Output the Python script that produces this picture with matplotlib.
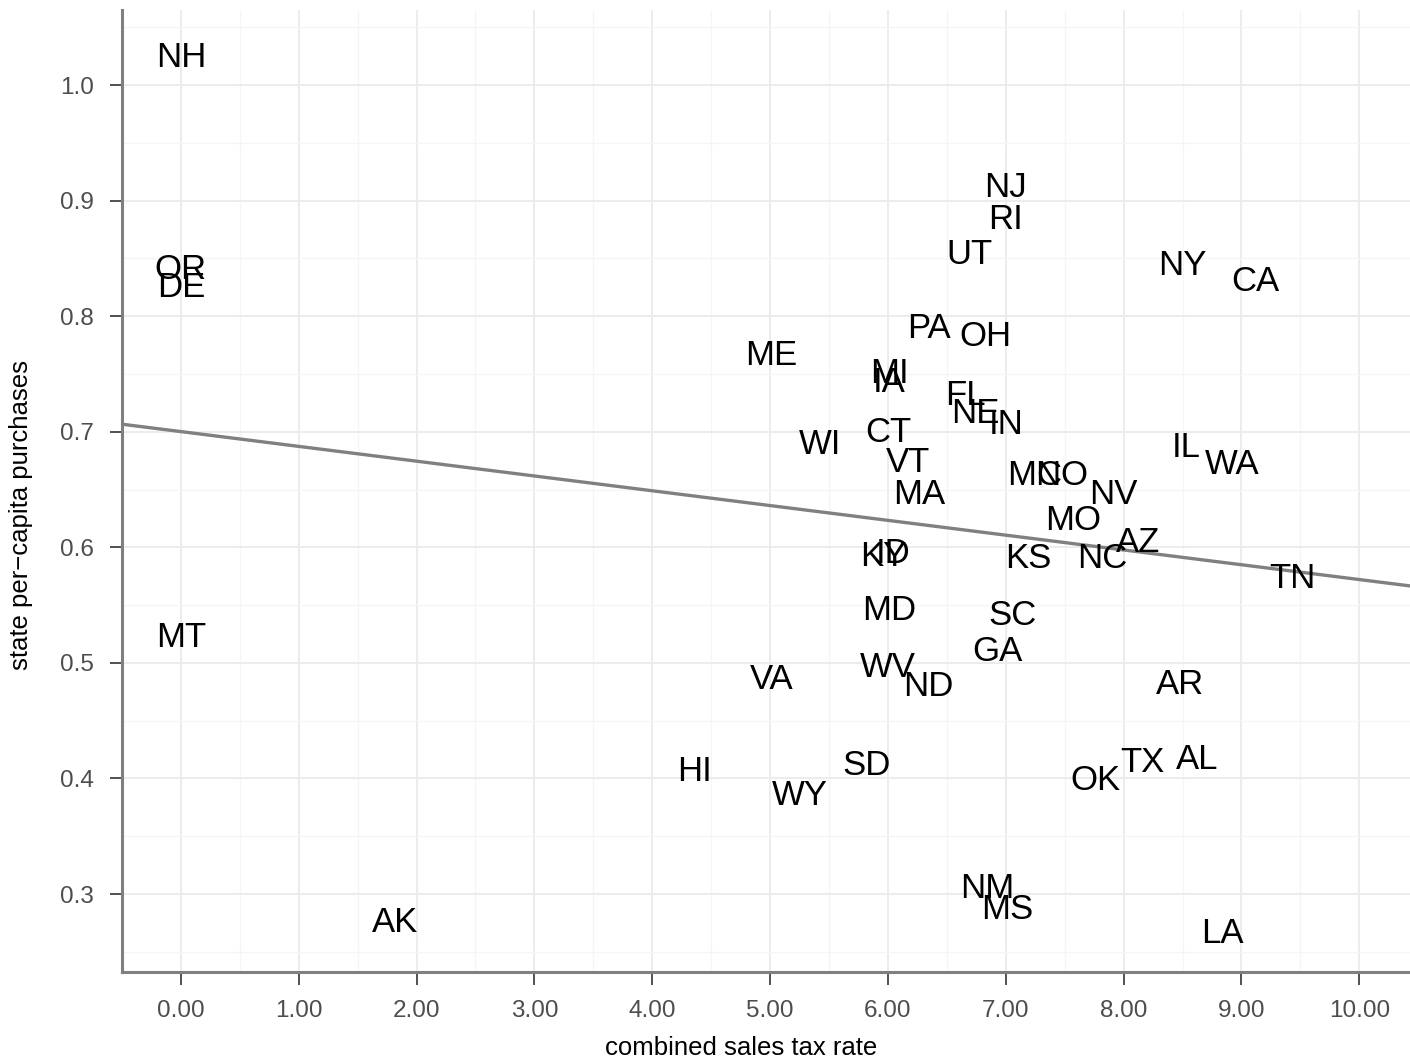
import matplotlib
matplotlib.use("Agg")
import matplotlib.pyplot as plt
import numpy as np
from matplotlib.ticker import MultipleLocator, FormatStrFormatter

states = ["NH", "OR", "DE", "MT", "AK", "HI", "WY", "VA", "SD", "ME",
          "WI", "MI", "IA", "CT", "VT", "MA", "KY", "ID", "MD", "WV",
          "ND", "FL", "NE", "IN", "PA", "OH", "UT", "NJ", "RI", "MN",
          "CO", "NV", "MO", "KS", "NC", "AZ", "IL", "WA", "TN", "NY",
          "CA", "SC", "GA", "AR", "TX", "AL", "OK", "NM", "MS", "LA"]
tax_rate = [0.00, 0.00, 0.00, 0.00, 1.82, 4.36, 5.25, 5.01, 5.815, 5.01,
            5.42, 6.01, 6.01, 6.00, 6.17, 6.265, 5.96, 6.04, 6.01, 6.00,
            6.34, 6.655, 6.74, 7.00, 6.35, 6.825, 6.69, 7.00, 7.00, 7.24,
            7.48, 7.91, 7.57, 7.19, 7.82, 8.12, 8.53, 8.92, 9.43, 8.50,
            9.12, 7.055, 6.93, 8.48, 8.16, 8.62, 7.76, 6.84, 7.01, 8.84]
purchases = [1.027, 0.843, 0.828, 0.525, 0.278, 0.409, 0.388, 0.489, 0.414, 0.769,
             0.692, 0.753, 0.746, 0.702, 0.676, 0.649, 0.595, 0.598, 0.548, 0.499,
             0.483, 0.734, 0.719, 0.709, 0.792, 0.785, 0.856, 0.914, 0.887, 0.665,
             0.665, 0.649, 0.626, 0.593, 0.593, 0.607, 0.689, 0.675, 0.576, 0.847,
             0.833, 0.544, 0.513, 0.484, 0.417, 0.419, 0.401, 0.308, 0.290, 0.269]

x_ticks = [0, 1, 2, 3, 4, 5, 6, 7, 8, 9, 10]
y_ticks = [0.3, 0.4, 0.5, 0.6, 0.7, 0.8, 0.9, 1.0]

plt.rcParams['font.family'] = ['Liberation Sans', 'DejaVu Sans']

fig = plt.figure(figsize=(14.1, 10.62), dpi=100)
ax = fig.add_axes([0.0865, 0.0847, 0.9135, 0.906])

xlim = (-0.5, 10.43)
ylim = (0.2325, 1.065)
ax.set_xlim(*xlim)
ax.set_ylim(*ylim)

# grid
ax.set_xticks(x_ticks)
ax.set_yticks(y_ticks)
ax.xaxis.set_minor_locator(MultipleLocator(0.5))
ax.yaxis.set_minor_locator(MultipleLocator(0.05))
ax.grid(which='major', color='#EBEBEB', linewidth=1.3)
ax.grid(which='minor', color='#F5F5F5', linewidth=1.0)
ax.set_axisbelow(True)
ax.tick_params(which='minor', length=0)
ax.tick_params(which='major', length=9, width=1.2, color='#333333',
               labelsize=17.5, labelcolor='#4D4D4D', pad=11)
ax.xaxis.set_major_formatter(FormatStrFormatter('%.2f'))
ax.yaxis.set_major_formatter(FormatStrFormatter('%.1f'))

for s in ['top', 'right']:
    ax.spines[s].set_visible(False)
for s in ['left', 'bottom']:
    ax.spines[s].set_color('#808080')
    ax.spines[s].set_linewidth(2.2)

# regression line (least squares fit of the data)
coef = np.polyfit(tax_rate, purchases, 1)
xs = np.array(xlim)
ax.plot(xs, np.polyval(coef, xs), color='#808080', linewidth=2.4, zorder=2)

for st, xv, yv in zip(states, tax_rate, purchases):
    ax.text(xv, yv, st, fontsize=25, ha='center', va='center_baseline',
            color='black', zorder=3)

ax.set_xlabel('combined sales tax rate', fontsize=18.5)
ax.set_ylabel('state per\u2212capita purchases', fontsize=18.5)
ax.xaxis.set_label_coords(0.481, -0.066)
ax.yaxis.set_label_coords(-0.069, 0.475)

fig.savefig('out.png', dpi=100)
